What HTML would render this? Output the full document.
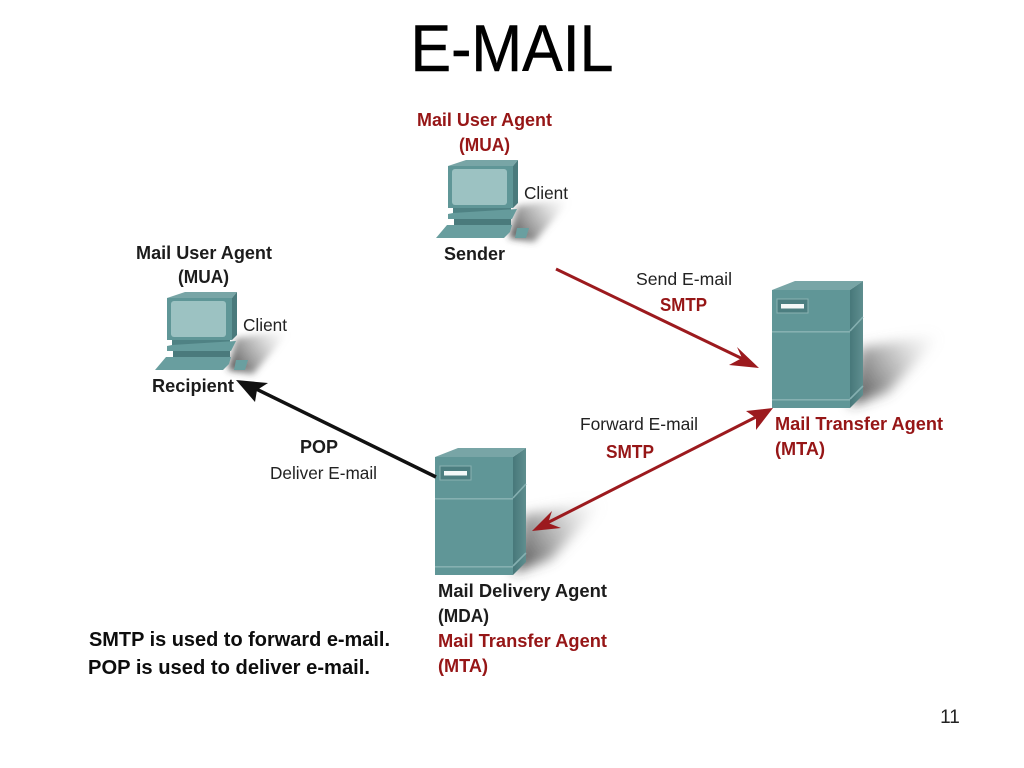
<!DOCTYPE html>
<html>
<head>
<meta charset="utf-8">
<title>E-MAIL</title>
<style>
html,body{margin:0;padding:0;background:#fff;width:1024px;height:768px;overflow:hidden}
svg{display:block}
text{font-family:"Liberation Sans",Arial,sans-serif}
.b{font-weight:bold;font-size:18px;fill:#1c1c1c}
.r{font-weight:bold;font-size:18px;fill:#961418}
.n{font-size:17.5px;fill:#222}
.big{font-weight:bold;font-size:20px;fill:#111}
</style>
</head>
<body>
<svg width="1024" height="768" viewBox="0 0 1024 768" xmlns="http://www.w3.org/2000/svg">
<defs>
<filter id="bl5" x="-30%" y="-30%" width="160%" height="160%"><feGaussianBlur stdDeviation="6"/></filter>
<filter id="bl3" x="-30%" y="-30%" width="160%" height="160%"><feGaussianBlur stdDeviation="3.5"/></filter>
<filter id="soft" x="-5%" y="-5%" width="110%" height="110%"><feGaussianBlur stdDeviation="0.3"/></filter>
<linearGradient id="sh" x1="0" y1="0.7" x2="1" y2="0.2">
<stop offset="0" stop-color="#333" stop-opacity=".8"/>
<stop offset=".5" stop-color="#777" stop-opacity=".45"/>
<stop offset="1" stop-color="#bbb" stop-opacity="0"/>
</linearGradient>
<linearGradient id="side" x1="0" y1="0" x2="1" y2="0">
<stop offset="0" stop-color="#47787a"/>
<stop offset="1" stop-color="#5f8e8f"/>
</linearGradient>
<g id="srv">
<polygon points="850,406 860,348 945,332 888,392" fill="url(#sh)" filter="url(#bl5)"/>
<polygon points="772,290 795,281 863,281 850,290" fill="#78a5a6"/>
<polygon points="850,290 863,281 863,395 850,408" fill="url(#side)"/>
<rect x="772" y="290" width="78" height="118" fill="#609697"/>
<rect x="772" y="331" width="78" height="1.6" fill="#86b0b1"/>
<rect x="772" y="399" width="78" height="1.6" fill="#86b0b1"/>
<polyline points="850,331 863,317" fill="none" stroke="#86b0b1" stroke-width="1.6"/>
<polyline points="850,399 863,386" fill="none" stroke="#86b0b1" stroke-width="1.6"/>
<rect x="777" y="299" width="31" height="14" fill="#4c7e80" stroke="#8ab1b2" stroke-width="1"/>
<rect x="781" y="304" width="23" height="4.5" fill="#f4f8f8"/>
</g>
<g id="pc">
<polygon points="509,238 517,206 572,198 534,242" fill="url(#sh)" filter="url(#bl3)"/>
<polygon points="448,166 466,160 518,160 513,166" fill="#78a5a6"/>
<polygon points="513,166 518,160 518,203 513,208" fill="#4a7a7c"/>
<rect x="448" y="166" width="65" height="42" fill="#5f9697"/>
<rect x="452" y="169" width="55" height="36" rx="3" fill="#9cc2c2"/>
<rect x="453" y="208" width="58" height="5" fill="#4f8284"/>
<polygon points="453,213 517,209 512,219 448,219 448,214" fill="#659b9c"/>
<rect x="454" y="219" width="57" height="6" fill="#4a7a7c"/>
<polygon points="447,225 512,225 510,232 504,238 436,238" fill="#699e9f"/>
<polygon points="517,228 529,228 526,238 515,238" fill="#6a9fa0"/>
</g>
</defs>

<text x="512" y="71" text-anchor="middle" style="font-size:66px" fill="#000" stroke="#000" stroke-width="0.5" textLength="203" lengthAdjust="spacingAndGlyphs">E-MAIL</text>

<use href="#pc"/>
<use href="#pc" x="-281" y="132"/>
<use href="#srv"/>
<use href="#srv" x="-337" y="167"/>

<g filter="url(#soft)">
<text class="r" x="417" y="126" textLength="135" lengthAdjust="spacingAndGlyphs">Mail User Agent</text>
<text class="r" x="459" y="151" textLength="51" lengthAdjust="spacingAndGlyphs">(MUA)</text>
<text class="n" x="524" y="199" textLength="44" lengthAdjust="spacingAndGlyphs">Client</text>
<text class="b" x="444" y="260" textLength="61" lengthAdjust="spacingAndGlyphs">Sender</text>

<text class="b" x="136" y="259" textLength="136" lengthAdjust="spacingAndGlyphs">Mail User Agent</text>
<text class="b" x="178" y="283" textLength="51" lengthAdjust="spacingAndGlyphs">(MUA)</text>
<text class="n" x="243" y="331" textLength="44" lengthAdjust="spacingAndGlyphs">Client</text>
<text class="b" x="152" y="392" textLength="82" lengthAdjust="spacingAndGlyphs">Recipient</text>

<text class="n" x="636" y="285" textLength="96" lengthAdjust="spacingAndGlyphs">Send E-mail</text>
<text class="r" x="660" y="311" textLength="47" lengthAdjust="spacingAndGlyphs">SMTP</text>
<text class="n" x="580" y="430" textLength="118" lengthAdjust="spacingAndGlyphs">Forward E-mail</text>
<text class="r" x="606" y="458" textLength="48" lengthAdjust="spacingAndGlyphs">SMTP</text>
<text class="b" x="300" y="453" textLength="38" lengthAdjust="spacingAndGlyphs">POP</text>
<text class="n" x="270" y="479" textLength="107" lengthAdjust="spacingAndGlyphs">Deliver E-mail</text>

<text class="r" x="775" y="430" textLength="168" lengthAdjust="spacingAndGlyphs">Mail Transfer Agent</text>
<text class="r" x="775" y="455" textLength="50" lengthAdjust="spacingAndGlyphs">(MTA)</text>

<text class="b" x="438" y="597" textLength="169" lengthAdjust="spacingAndGlyphs">Mail Delivery Agent</text>
<text class="b" x="438" y="622" textLength="51" lengthAdjust="spacingAndGlyphs">(MDA)</text>
<text class="r" x="438" y="647" textLength="169" lengthAdjust="spacingAndGlyphs">Mail Transfer Agent</text>
<text class="r" x="438" y="672" textLength="50" lengthAdjust="spacingAndGlyphs">(MTA)</text>

<text class="big" x="89" y="646" textLength="301" lengthAdjust="spacingAndGlyphs">SMTP is used to forward e-mail.</text>
<text class="big" x="88" y="674" textLength="282" lengthAdjust="spacingAndGlyphs">POP is used to deliver e-mail.</text>
</g>

<text x="950" y="723" text-anchor="middle" style="font-size:19px" fill="#222">11</text>

<!-- SMTP send -->
<line x1="556" y1="269" x2="745" y2="360" stroke="#9c1a1e" stroke-width="3"/>
<polygon points="759,368 729,365 742,358 737,347" fill="#9c1a1e"/>
<!-- SMTP forward, double headed -->
<line x1="545" y1="524" x2="760" y2="415" stroke="#9c1a1e" stroke-width="3"/>
<polygon points="773,408 746,411 756,418 756,430" fill="#9c1a1e"/>
<polygon points="532,531 552,511 548,523 561,528" fill="#9c1a1e"/>
<!-- POP -->
<line x1="436" y1="477" x2="252" y2="387" stroke="#111" stroke-width="3.5"/>
<polygon points="236,380 268,383 257,390 255,402" fill="#111"/>
</svg>
</body>
</html>
